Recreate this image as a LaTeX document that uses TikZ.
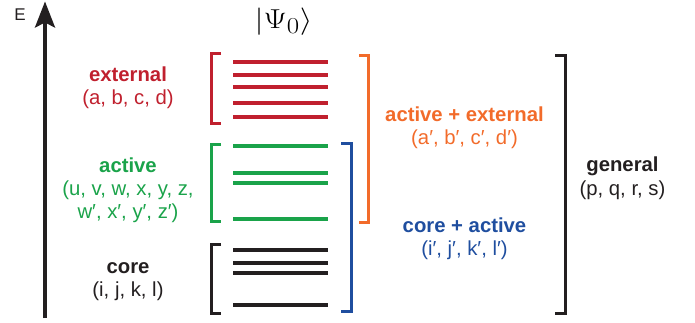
\documentclass[tikz,border=0pt]{standalone}
\usepackage{fontspec}
\setmainfont{Liberation Sans}
\usetikzlibrary{arrows.meta}
\definecolor{extred}{HTML}{C0202E}
\definecolor{actgreen}{HTML}{1AA34A}
\definecolor{corek}{HTML}{231F20}
\definecolor{aeorange}{HTML}{F26B2A}
\definecolor{cablue}{HTML}{1F4E9F}
\begin{document}
\begin{tikzpicture}[x=1pt,y=-1pt,
  level/.style={line width=4pt},
  bracket/.style={line width=3pt},
  title/.style={font=\fontsize{20.3}{24}\selectfont\bfseries, anchor=base, inner sep=0pt},
  idx/.style={font=\fontsize{20.3}{24}\selectfont, anchor=base, inner sep=0pt, align=center}]
\useasboundingbox (0,0) rectangle (695,322);

% energy axis
\coordinate (axbot) at (45,318);
\coordinate (axtop) at (45,1.5);
\draw[line width=3.5pt, corek, -{Stealth[length=26pt,width=20pt,inset=5pt]}] (axbot) -- (axtop);
\node[font=\fontsize{17}{20}\selectfont, text=corek, inner sep=0pt] (elabel) at (20,15) {E};

% reference state
\node[inner sep=0pt, xscale=1.3, yscale=1.1, font=\fontsize{24.88}{36}\selectfont] (psi) at (283.5,21.5) {$\bigl|\Psi_0\bigr\rangle$};

% external orbitals
\foreach \y in {61.7,75,87.3,103.3,117.3}
  \draw[level, extred] (233,\y) -- (328,\y);
% active orbitals
\foreach \y in {146,172.7,183.3,219.3}
  \draw[level, actgreen] (233,\y) -- (328,\y);
% core orbitals
\foreach \y in {250,262.7,272.7,305}
  \draw[level, corek] (233,\y) -- (328,\y);

% left brackets
\draw[bracket, extred] (221,53.5) -- (211,53.5) -- (211,123.8) -- (221,123.8);
\draw[bracket, actgreen] (221,144) -- (211,144) -- (211,221.5) -- (221,221.5);
\draw[bracket, corek] (221,244.5) -- (211,244.5) -- (211,313) -- (221,313);

% right brackets
\draw[bracket, cablue] (341,143.5) -- (351,143.5) -- (351,311.5) -- (341,311.5);
\draw[bracket, aeorange] (359,55.5) -- (368.8,55.5) -- (368.8,222.5) -- (359,222.5);
\draw[bracket, corek] (555,55.5) -- (565,55.5) -- (565,313.5) -- (555,313.5);

% left labels
\node[title, text=extred] (ext) at (128,81.5) {external};
\node[idx, text=extred] (extidx) at (128,104.5) {(a, b, c, d)};
\node[title, text=actgreen] (act) at (128,172.5) {active};
\node[idx, text=actgreen] (actidx) at (128,195) {(u, v, w, x, y, z,};
\node[idx, text=actgreen] (actidxb) at (128,218) {w′, x′, y′, z′)};
\node[title, text=corek] (core) at (128,273) {core};
\node[idx, text=corek] (coreidx) at (128,296) {(i, j, k, l)};

% right labels
\node[title, text=aeorange] (ae) at (464.5,121) {active + external};
\node[idx, text=aeorange] (aeidx) at (464.5,144.5) {(a′, b′, c′, d′)};
\node[title, text=cablue] (ca) at (464.5,232) {core + active};
\node[idx, text=cablue] (caidx) at (464.5,255.5) {(i′, j′, k′, l′)};
\node[title, text=corek] (gen) at (622.5,171.5) {general};
\node[idx, text=corek] (genidx) at (622.5,195) {(p, q, r, s)};
\end{tikzpicture}
\end{document}
